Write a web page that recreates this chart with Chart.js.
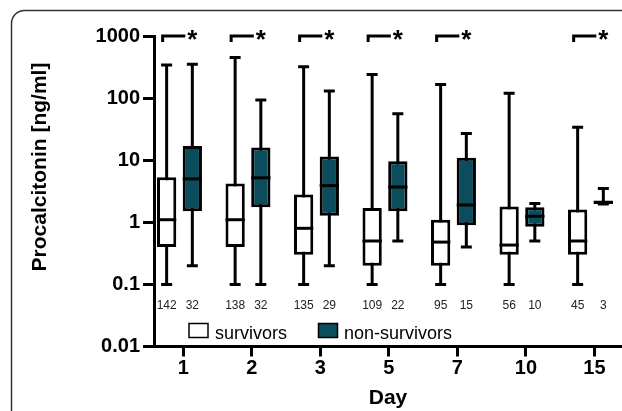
<!DOCTYPE html>
<html>
<head>
<meta charset="utf-8">
<script src="https://cdn.jsdelivr.net/npm/chart.js@4.4.1/dist/chart.umd.min.js"></script>
<style>
  html, body { margin: 0; padding: 0; background: #fff; }
  #wrap { width: 622px; height: 411px; position: relative; }
</style>
</head>
<body>
<div id="wrap"><canvas id="myChart"></canvas></div>
<script>
// x categories (day after admission)
var days = ["1", "2", "3", "5", "7", "10", "15"];
var yTickValues = [0.01, 0.1, 1, 10, 100, 1000];
var yTickLabels = ["0.01", "0.1", "1", "10", "100", "1000"];

// survivors - procalcitonin ng/ml
var survMin    = [0.1, 0.1, 0.1, 0.1, 0.1, 0.1, 0.1];
var survQ1     = [0.4, 0.4, 0.3, 0.2, 0.2, 0.3, 0.3];
var survMedian = [1.1, 1.1, 0.8, 0.5, 0.48, 0.43, 0.5];
var survQ3     = [5.3, 4.2, 2.8, 1.7, 1.1, 1.8, 1.6];
var survMax    = [340, 450, 320, 240, 165, 120, 34];
var survN      = [142, 138, 135, 109, 95, 56, 45];

// non-survivors
var nonMin    = [0.2, 0.1, 0.2, 0.5, 0.4, 0.5, 1.98];
var nonQ1     = [1.5, 1.75, 1.27, 1.5, 0.9, 0.85, 1.98];
var nonMedian = [5.0, 5.2, 3.9, 3.7, 1.9, 1.25, 2.1];
var nonQ3     = [17, 16, 11.5, 9.6, 11, 1.75, 2.22];
var nonMax    = [350, 93, 130, 56, 27, 2.0, 3.5];
var nonN      = [32, 32, 29, 22, 15, 10, 3];

// p < 0.05 marker per day
var significant = [true, true, true, true, true, false, true];

var FONT = "'Liberation Sans', Arial, Helvetica, sans-serif";
var TEAL = '#0b4d5c';
Chart.defaults.font.family = FONT;
Chart.defaults.color = '#000';

var stats = [
  { min: survMin, q1: survQ1, med: survMedian, q3: survQ3, max: survMax, n: survN },
  { min: nonMin, q1: nonQ1, med: nonMedian, q3: nonQ3, max: nonMax, n: nonN }
];

function boxData(q1, q3) {
  return days.map(function(d, i) { return { x: i + 1, y: [q1[i], q3[i]] }; });
}

var boxExtras = {
  id: 'boxExtras',
  beforeDraw: function(chart) {
    // rounded frame round the figure
    var c = chart.ctx;
    var x = 11.5, y = 10.5, w = 700, h = 500, r = 13;
    c.save();
    c.strokeStyle = '#333';
    c.lineWidth = 1.5;
    c.beginPath();
    c.moveTo(x + r, y);
    c.lineTo(x + w, y);
    c.lineTo(x + w, y + h);
    c.lineTo(x, y + h);
    c.lineTo(x, y + r);
    c.arcTo(x, y, x + r, y, r);
    c.stroke();
    c.restore();
  },
  beforeDatasetsDraw: function(chart) {
    // whiskers + caps, behind the boxes
    var c = chart.ctx, ys = chart.scales.y;
    c.save();
    c.strokeStyle = '#000';
    c.lineWidth = 3;
    stats.forEach(function(s, d) {
      chart.getDatasetMeta(d).data.forEach(function(el, i) {
        var yMin = ys.getPixelForValue(s.min[i]);
        var yMax = ys.getPixelForValue(s.max[i]);
        c.beginPath();
        c.moveTo(el.x, yMin); c.lineTo(el.x, yMax);
        c.moveTo(el.x - 5.5, yMin); c.lineTo(el.x + 5.5, yMin);
        c.moveTo(el.x - 5.5, yMax); c.lineTo(el.x + 5.5, yMax);
        c.stroke();
      });
    });
    c.restore();
  },
  afterDatasetsDraw: function(chart) {
    // medians
    var c = chart.ctx, ys = chart.scales.y;
    c.save();
    c.strokeStyle = '#000';
    c.lineWidth = 3;
    stats.forEach(function(s, d) {
      chart.getDatasetMeta(d).data.forEach(function(el, i) {
        var ym = ys.getPixelForValue(s.med[i]);
        c.beginPath();
        c.moveTo(el.x - el.width / 2, ym);
        c.lineTo(el.x + el.width / 2, ym);
        c.stroke();
      });
    });
    c.restore();
  },
  afterDraw: function(chart) {
    var c = chart.ctx, ys = chart.scales.y, area = chart.chartArea;
    var m0 = chart.getDatasetMeta(0).data, m1 = chart.getDatasetMeta(1).data;
    c.save();

    // significance brackets
    var yb = ys.getPixelForValue(1000);
    c.strokeStyle = '#000';
    c.fillStyle = '#000';
    c.lineWidth = 3;
    c.lineJoin = 'miter';
    c.font = 'bold 26px ' + FONT;
    c.textAlign = 'center';
    c.textBaseline = 'alphabetic';
    significant.forEach(function(sig, i) {
      if (!sig) return;
      var xs = m0[i].x - 4, xe = m1[i].x - 7;
      c.beginPath();
      c.moveTo(xs, yb + 6);
      c.lineTo(xs, yb);
      c.lineTo(xe, yb);
      c.stroke();
      c.fillText('*', m1[i].x, yb + 12);
    });

    // n per group
    var yn = ys.getPixelForValue(0.045);
    c.font = '12px ' + FONT;
    c.fillStyle = '#222';
    c.textBaseline = 'middle';
    days.forEach(function(d, i) {
      c.fillText(String(survN[i]), m0[i].x, yn);
      c.fillText(String(nonN[i]), m1[i].x, yn);
    });

    // legend inside the plot
    var ly = area.bottom - 23;
    c.lineWidth = 1.5;
    c.strokeStyle = '#000';
    c.fillStyle = '#fff';
    c.fillRect(189, ly, 19, 14);
    c.strokeRect(189, ly, 19, 14);
    c.fillStyle = TEAL;
    c.fillRect(318.5, ly, 19, 14);
    c.strokeRect(318.5, ly, 19, 14);
    c.fillStyle = '#000';
    c.font = '18px ' + FONT;
    c.textAlign = 'left';
    c.textBaseline = 'alphabetic';
    c.fillText('survivors', 215, ly + 15);
    c.fillText('non-survivors', 344, ly + 15);

    // y axis title
    c.translate(40, 167);
    c.rotate(-Math.PI / 2);
    c.font = 'bold 21px ' + FONT;
    c.textAlign = 'center';
    c.textBaseline = 'middle';
    c.fillText('Procalcitonin [ng/ml]', 0, 0);
    c.restore();
  }
};

var ctx = document.getElementById('myChart');
var myChart = new Chart(ctx, {
  type: 'bar',
  data: {
    datasets: [{
      label: 'survivors',
      data: boxData(survQ1, survQ3),
      backgroundColor: '#fff',
      borderColor: '#000',
      borderWidth: 3,
      borderSkipped: false
    }, {
      label: 'non-survivors',
      data: boxData(nonQ1, nonQ3),
      backgroundColor: TEAL,
      borderColor: '#000',
      borderWidth: 3,
      borderSkipped: false
    }]
  },
  options: {
    responsive: true,
    maintainAspectRatio: false,
    animation: false,
    categoryPercentage: 0.75,
    barPercentage: 0.75,
    layout: { padding: { left: 0, right: 0, top: 36, bottom: 0 } },
    plugins: {
      legend: { display: false },
      tooltip: { enabled: false }
    },
    scales: {
      x: {
        type: 'linear',
        min: 0.628,
        max: 7.46,
        offset: false,
        afterFit: function(s) { s.height = 64.5; },
        afterBuildTicks: function(s) {
          s.ticks = days.map(function(d, i) { return { value: i + 1.057 }; });
        },
        ticks: {
          callback: function(v, i) { return days[i]; },
          font: { size: 20, weight: 'bold' },
          color: '#000',
          padding: 0,
          maxRotation: 0,
          autoSkip: false
        },
        grid: { offset: false, drawOnChartArea: false, drawTicks: true, tickLength: 10, tickWidth: 3, tickColor: '#000' },
        border: { display: true, color: '#000', width: 3 },
        title: { display: true, text: 'Day', font: { size: 21, weight: 'bold' }, color: '#000', padding: { top: 0, bottom: 0 } }
      },
      y: {
        type: 'logarithmic',
        min: 0.01,
        max: 1000,
        afterFit: function(s) { s.width = 154; },
        afterBuildTicks: function(s) {
          s.ticks = yTickValues.map(function(v) { return { value: v }; });
        },
        ticks: {
          callback: function(v, i) { return yTickLabels[i]; },
          font: { size: 20, weight: 'bold' },
          color: '#000',
          padding: 3,
          autoSkip: false
        },
        grid: { drawOnChartArea: false, drawTicks: true, tickLength: 11, tickWidth: 3, tickColor: '#000' },
        border: { display: true, color: '#000', width: 3 }
      }
    }
  },
  plugins: [boxExtras]
});
</script>
</body>
</html>
